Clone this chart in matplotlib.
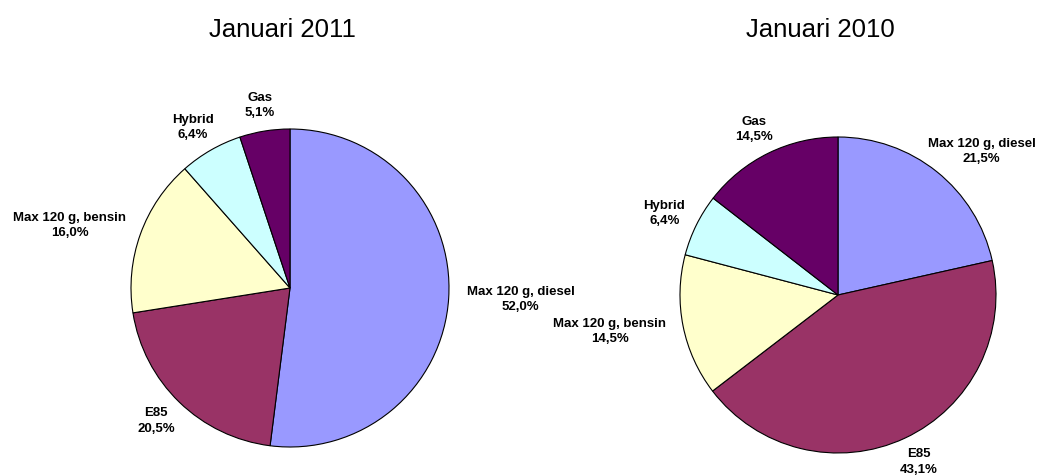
import numpy as np
import matplotlib
matplotlib.use("Agg")
import matplotlib.pyplot as plt

categories = ["Max 120 g, diesel", "E85", "Max 120 g, bensin", "Hybrid", "Gas"]
values_2011 = [52.0, 20.5, 16.0, 6.4, 5.1]
values_2010 = [21.5, 43.1, 14.5, 6.4, 14.5]
titles = ["Januari 2011", "Januari 2010"]
colors = ["#9999FF", "#993366", "#FFFFCC", "#CCFFFF", "#660066"]

W, H = 1058, 475
plt.rcParams['font.family'] = ['Liberation Sans', 'DejaVu Sans']
fig = plt.figure(figsize=(W / 100, H / 100), dpi=100)

# pie geometry in pixels: (cx, cy, r), title (x, baseline y)
layouts = [((290, 288, 159), (282, 37)), ((838, 295, 158), (820, 37))]

texts = []
for vals, title, ((cx, cy, r), (tx, ty)) in zip([values_2011, values_2010], titles, layouts):
    ax = fig.add_axes([(cx - r) / W, 1 - (cy + r) / H, 2 * r / W, 2 * r / H])
    wedges, _ = ax.pie(vals, colors=colors, startangle=90, counterclock=False,
                       radius=1.0, center=(0, 0),
                       wedgeprops=dict(edgecolor='black', linewidth=0.8))
    ax.set_xlim(-1, 1)
    ax.set_ylim(-1, 1)
    ax.axis('off')
    for w, cat, v in zip(wedges, categories, vals):
        ang = np.deg2rad((w.theta1 + w.theta2) / 2)
        c, s = np.cos(ang), np.sin(ang)
        lab = f"{cat}\n{v:.1f}%".replace('.', ',')
        t = ax.text(1.08 * c, 1.08 * s, lab, ha='center', va='center',
                    multialignment='center', fontsize=9.5, fontweight='bold',
                    linespacing=1.35, clip_on=False)
        texts.append((t, ax, c, s, r))
    fig.text(tx / W, 1 - ty / H, title, ha='center', va='baseline', fontsize=18.5)

fig.canvas.draw()
renderer = fig.canvas.get_renderer()
for t, ax, c, s, r in texts:
    bb = t.get_window_extent(renderer)
    x, y = t.get_position()
    t.set_position((x + bb.width / 2 * 1.1 * c / r, y + bb.height / 2 * s / r))

fig.savefig("out.png", dpi=100, facecolor='white')
